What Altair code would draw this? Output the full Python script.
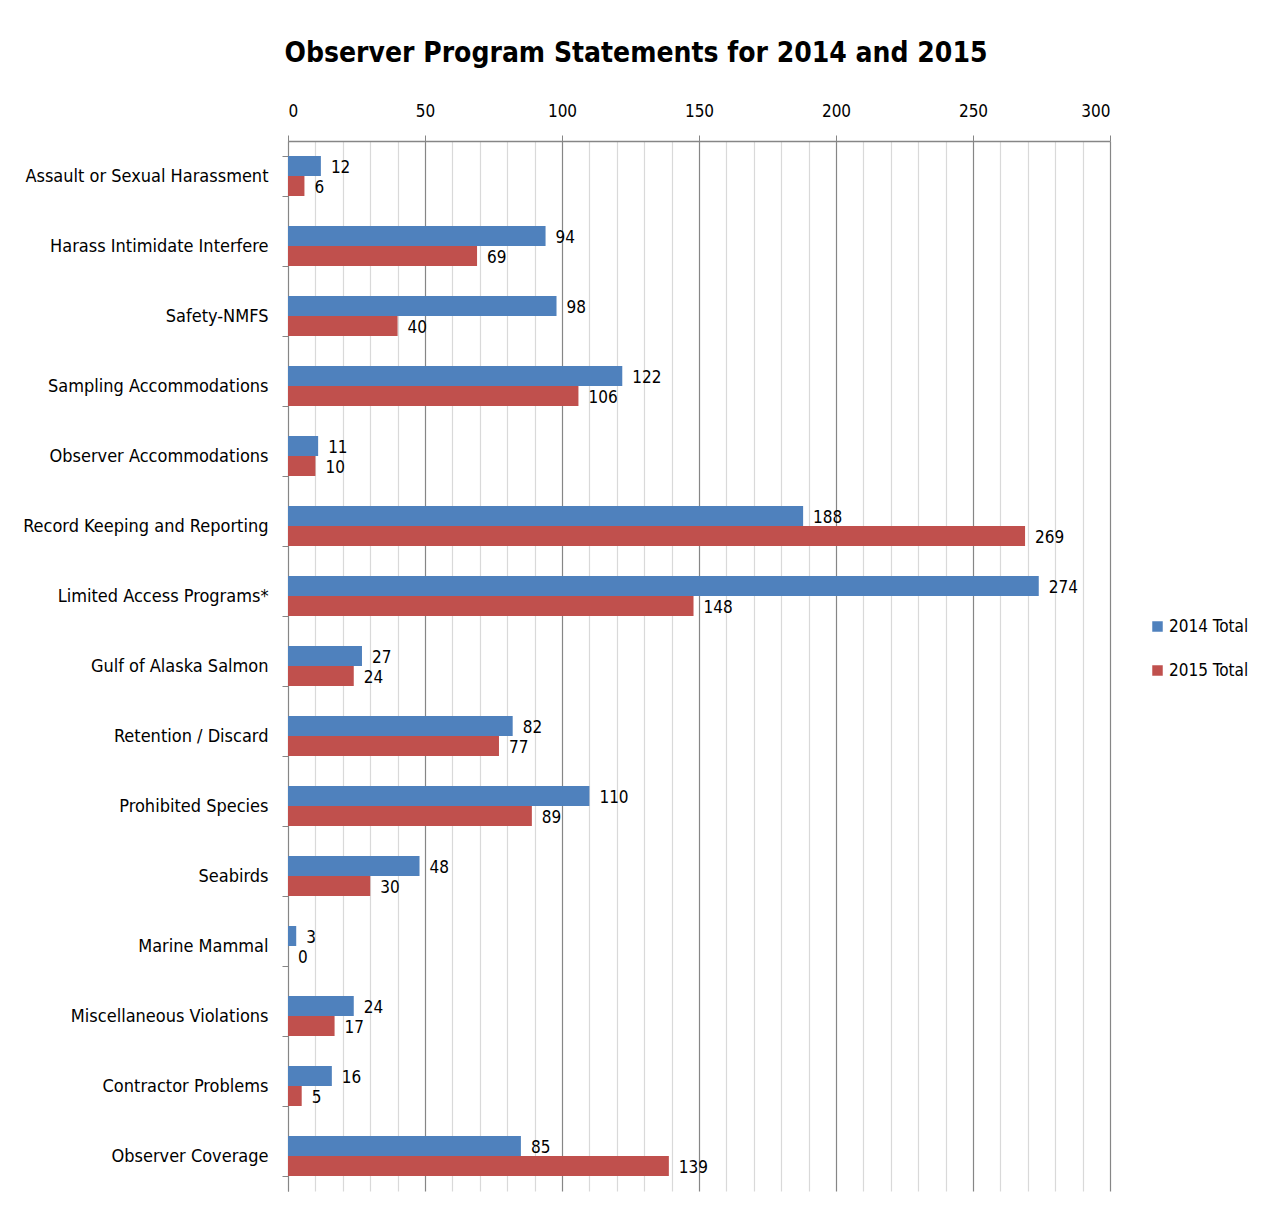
import altair as alt
import pandas as pd

categories = [
    "Assault or Sexual Harassment", "Harass Intimidate Interfere", "Safety-NMFS",
    "Sampling Accommodations", "Observer Accommodations", "Record Keeping and Reporting",
    "Limited Access Programs*", "Gulf of Alaska Salmon", "Retention / Discard",
    "Prohibited Species", "Seabirds", "Marine Mammal", "Miscellaneous Violations",
    "Contractor Problems", "Observer Coverage",
]
total_2014 = [12, 94, 98, 122, 11, 188, 274, 27, 82, 110, 48, 3, 24, 16, 85]
total_2015 = [6, 69, 40, 106, 10, 269, 148, 24, 77, 89, 30, 0, 17, 5, 139]
series = ["2014 Total", "2015 Total"]
colors = ["#4F81BD", "#C0504D"]
x_ticks = list(range(0, 301, 10))

rows = []
for c, a, b in zip(categories, total_2014, total_2015):
    rows.append({"cat": c, "series": series[0], "value": a})
    rows.append({"cat": c, "series": series[1], "value": b})
df = pd.DataFrame(rows)

FONT = "'DejaVu Sans Condensed', 'Liberation Sans Narrow', 'Liberation Sans', sans-serif"

y = alt.Y("cat:N", sort=categories, title=None,
          scale=alt.Scale(paddingInner=0.43, paddingOuter=0.215),
          axis=alt.Axis(labelFontSize=18, labelFont=FONT, labelColor="#000000",
                        labelPadding=14, tickBand="extent", tickSize=6,
                        tickColor="#868686", domainColor="#868686", grid=False,
                        labelLimit=300))
x = alt.X("value:Q", title=None,
          scale=alt.Scale(domain=[0, 300], nice=False),
          axis=alt.Axis(orient="top", values=x_ticks, tickCount=40, labelOverlap=False,
                        labelExpr="datum.value % 50 === 0 ? datum.label : ''",
                        labelFontSize=17, labelFont=FONT, labelColor="#000000",
                        labelPadding=15, tickSize=6,
                        tickColor={"condition": {"test": "datum.value % 50 === 0", "value": "#868686"}, "value": "rgba(0,0,0,0)"},
                        gridColor={"condition": {"test": "datum.value % 50 === 0", "value": "#868686"}, "value": "#d9d9d9"},
                        gridWidth=1.2, domainColor="#868686", domainWidth=1.5))
yoff = alt.YOffset("series:N", sort=series)
color = alt.Color("series:N", sort=series,
                  scale=alt.Scale(domain=series, range=colors),
                  legend=alt.Legend(title=None, orient="none", legendX=861, legendY=477,
                                    symbolType="square", symbolSize=110,
                                    labelFontSize=17, labelFont=FONT, labelColor="#000000",
                                    rowPadding=26, symbolStrokeWidth=0, labelOffset=3))

bars = alt.Chart(df).mark_bar(size=20).encode(y=y, x=x, yOffset=yoff, color=color)
labels = alt.Chart(df).mark_text(align="left", baseline="middle", dx=10, dy=2,
                                 fontSize=17, font=FONT, color="#000000").encode(
    y=alt.Y("cat:N", sort=categories), x="value:Q", yOffset=yoff, text="value:Q")

chart = alt.layer(bars, labels).properties(
    width=822, height=1050,
    autosize=alt.AutoSizeParams(type="none"),
    padding={"left": 280, "top": 133, "right": 149, "bottom": 17},
    title=alt.TitleParams("Observer Program Statements for 2014 and 2015",
                          fontSize=28, font=FONT, fontWeight="bold", color="#000000",
                          anchor="middle", dx=-63, offset=34),
).configure_view(strokeWidth=0)

chart.save("out.html", embed_options={"renderer": "svg", "actions": False})
